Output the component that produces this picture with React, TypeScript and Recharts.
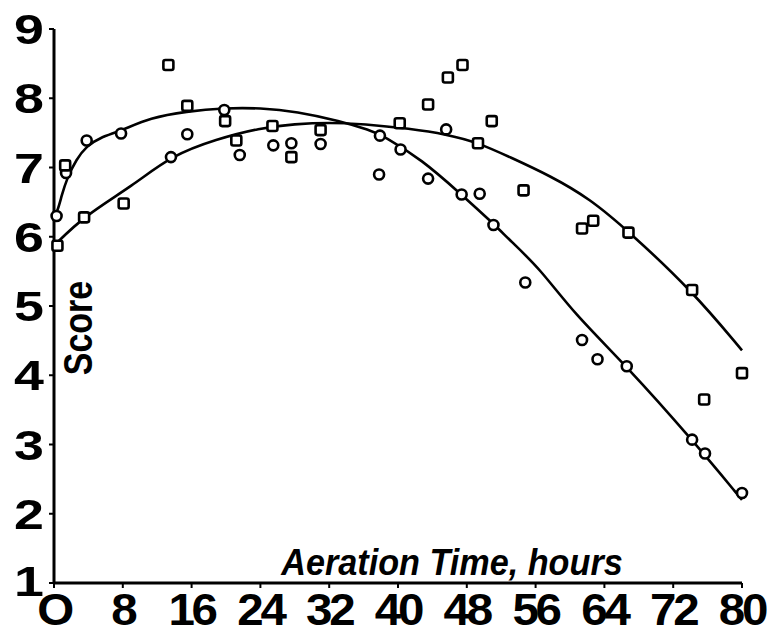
import React from 'react';
import { ComposedChart, XAxis, YAxis, Line, Scatter, Label } from 'recharts';

const xTicks = [0, 8, 16, 24, 32, 40, 48, 56, 64, 72, 80];
const yTicks = [1, 2, 3, 4, 5, 6, 7, 8, 9];

// Circle observations
const circleHours = [0.3, 1.4, 3.8, 7.8, 13.6, 15.5, 19.8, 21.6, 25.5, 27.6, 31, 37.8, 37.9, 40.3, 43.5, 45.6, 47.4, 49.5, 51.1, 54.8, 61.4, 63.2, 66.6, 74.2, 75.7, 80];
const circleScores = [6.3, 6.92, 7.39, 7.49, 7.15, 7.48, 7.83, 7.18, 7.32, 7.35, 7.34, 6.9, 7.46, 7.26, 6.84, 7.55, 6.61, 6.62, 6.17, 5.34, 4.51, 4.23, 4.13, 3.07, 2.87, 2.3];

// Square observations
const squareHours = [0.4, 1.3, 3.5, 8.1, 13.3, 15.5, 19.9, 21.2, 25.4, 27.6, 31, 40.2, 43.5, 45.8, 47.5, 49.3, 50.9, 54.6, 61.4, 62.7, 66.8, 74.2, 75.6, 80];
const squareScores = [5.87, 7.03, 6.28, 6.48, 8.48, 7.89, 7.67, 7.39, 7.6, 7.15, 7.54, 7.64, 7.91, 8.3, 8.48, 7.35, 7.67, 6.67, 6.12, 6.23, 6.06, 5.23, 3.65, 4.03];

// Fitted curves
const circleFitHours = [0, 0.4, 0.9, 1.5, 2.6, 3.8, 5.3, 7.8, 11.2, 15.4, 19.8, 24, 28.2, 33.3, 36.7, 38.3, 42.8, 47.2, 51.1, 53, 56.5, 60.4, 66.6, 74.2, 80, 80];
const circleFitScores = [6.31, 6.36, 6.6, 6.84, 7.12, 7.31, 7.43, 7.53, 7.72, 7.81, 7.86, 7.86, 7.81, 7.67, 7.54, 7.46, 7.11, 6.63, 6.19, 5.95, 5.54, 4.9, 4.13, 3.07, 2.2, 2.2];

const squareFitHours = [0, 0, 3.5, 9.2, 13.6, 18.9, 23.9, 28, 32.1, 36, 41.4, 45.6, 49.3, 53, 57.7, 62.3, 66.8, 74.2, 80, 80];
const squareFitScores = [5.87, 5.87, 6.3, 6.74, 7.17, 7.41, 7.57, 7.63, 7.65, 7.63, 7.56, 7.48, 7.36, 7.15, 6.88, 6.55, 6.08, 5.22, 4.36, 4.36];

const zip = (xs: number[], ys: number[]) => xs.map((x, i) => ({ x, y: ys[i] }));

const circleData = zip(circleHours, circleScores);
const squareData = zip(squareHours, squareScores);
const circleFit = zip(circleFitHours, circleFitScores);
const squareFit = zip(squareFitHours, squareFitScores);

const FONT = 'Liberation Sans, Arial, Helvetica, sans-serif';

const XTick = (props: any) => {
  const { x, y, payload } = props;
  return (
    <g transform={`translate(${x},${y})`}>
      <text
        x={0}
        y={0}
        dy={35}
        textAnchor="middle"
        transform="scale(1.08,1)"
        fontSize={44}
        fontWeight="bold"
        fontFamily={FONT}
        letterSpacing={-3}
        fill="#000"
      >
        {payload.value === 0 ? 'O' : payload.value}
      </text>
    </g>
  );
};

const YTick = (props: any) => {
  const { x, y, payload } = props;
  return (
    <g transform={`translate(${x},${y})`}>
      <text
        x={0}
        y={0}
        dy={payload.value === 1 ? 13 : 15}
        textAnchor="end"
        transform="scale(1.25,1)"
        fontSize={43}
        fontWeight="bold"
        fontFamily={FONT}
        fill="#000"
      >
        {payload.value}
      </text>
    </g>
  );
};

const CircleShape = (props: any) => {
  const { cx, cy } = props;
  if (cx == null || cy == null) return null;
  return <circle cx={cx} cy={cy} r={5} fill="#fff" stroke="#000" strokeWidth={2.6} />;
};

const SquareShape = (props: any) => {
  const { cx, cy } = props;
  if (cx == null || cy == null) return null;
  return (
    <rect x={cx - 5} y={cy - 5} width={10} height={10} rx={2} fill="#fff" stroke="#000" strokeWidth={2.6} />
  );
};

export default function App() {
  return (
    <div style={{ width: 767, height: 635, marginTop: -8, background: '#fff' }}>
      <ComposedChart
        width={767}
        height={635}
        margin={{ top: 29, right: 33, bottom: 0, left: 0 }}
      >
        <XAxis
          type="number"
          dataKey="x"
          domain={[0, 80]}
          ticks={xTicks}
          interval={0}
          height={52}
          tickSize={5}
          tickMargin={2}
          tick={<XTick />}
          axisLine={{ stroke: '#000', strokeWidth: 3 }}
          tickLine={{ stroke: '#000', strokeWidth: 2 }}
        >
          <Label
            content={() => (
              <g transform="translate(444,575) scale(0.95,1)">
                <text
                  x={0}
                  y={0}
                  textAnchor="middle"
                  fontSize={36}
                  fontWeight="bold"
                  fontStyle="italic"
                  fontFamily={FONT}
                  fill="#000"
                >
                  Aeration Time, hours
                </text>
              </g>
            )}
          />
        </XAxis>
        <YAxis
          type="number"
          dataKey="y"
          domain={[1, 9]}
          ticks={yTicks}
          interval={0}
          width={46}
          tickSize={5}
          tickMargin={5}
          tick={<YTick />}
          axisLine={{ stroke: '#000', strokeWidth: 3 }}
          tickLine={{ stroke: '#000', strokeWidth: 2 }}
        >
          <Label
            content={() => (
              <g transform="translate(70,328) rotate(-90) scale(0.83,1)">
                <text
                  x={0}
                  y={0}
                  dy={14}
                  textAnchor="middle"
                  fontSize={41}
                  fontWeight="bold"
                  fontFamily={FONT}
                  fill="#000"
                >
                  Score
                </text>
              </g>
            )}
          />
        </YAxis>
        <Scatter data={circleData} dataKey="y" shape={<CircleShape />} isAnimationActive={false} />
        <Scatter data={squareData} dataKey="y" shape={<SquareShape />} isAnimationActive={false} />
        <Line
          data={circleFit}
          dataKey="y"
          type="basis"
          stroke="#000"
          strokeWidth={2.6}
          dot={false}
          activeDot={false}
          isAnimationActive={false}
        />
        <Line
          data={squareFit}
          dataKey="y"
          type="basis"
          stroke="#000"
          strokeWidth={2.6}
          dot={false}
          activeDot={false}
          isAnimationActive={false}
        />
      </ComposedChart>
    </div>
  );
}
